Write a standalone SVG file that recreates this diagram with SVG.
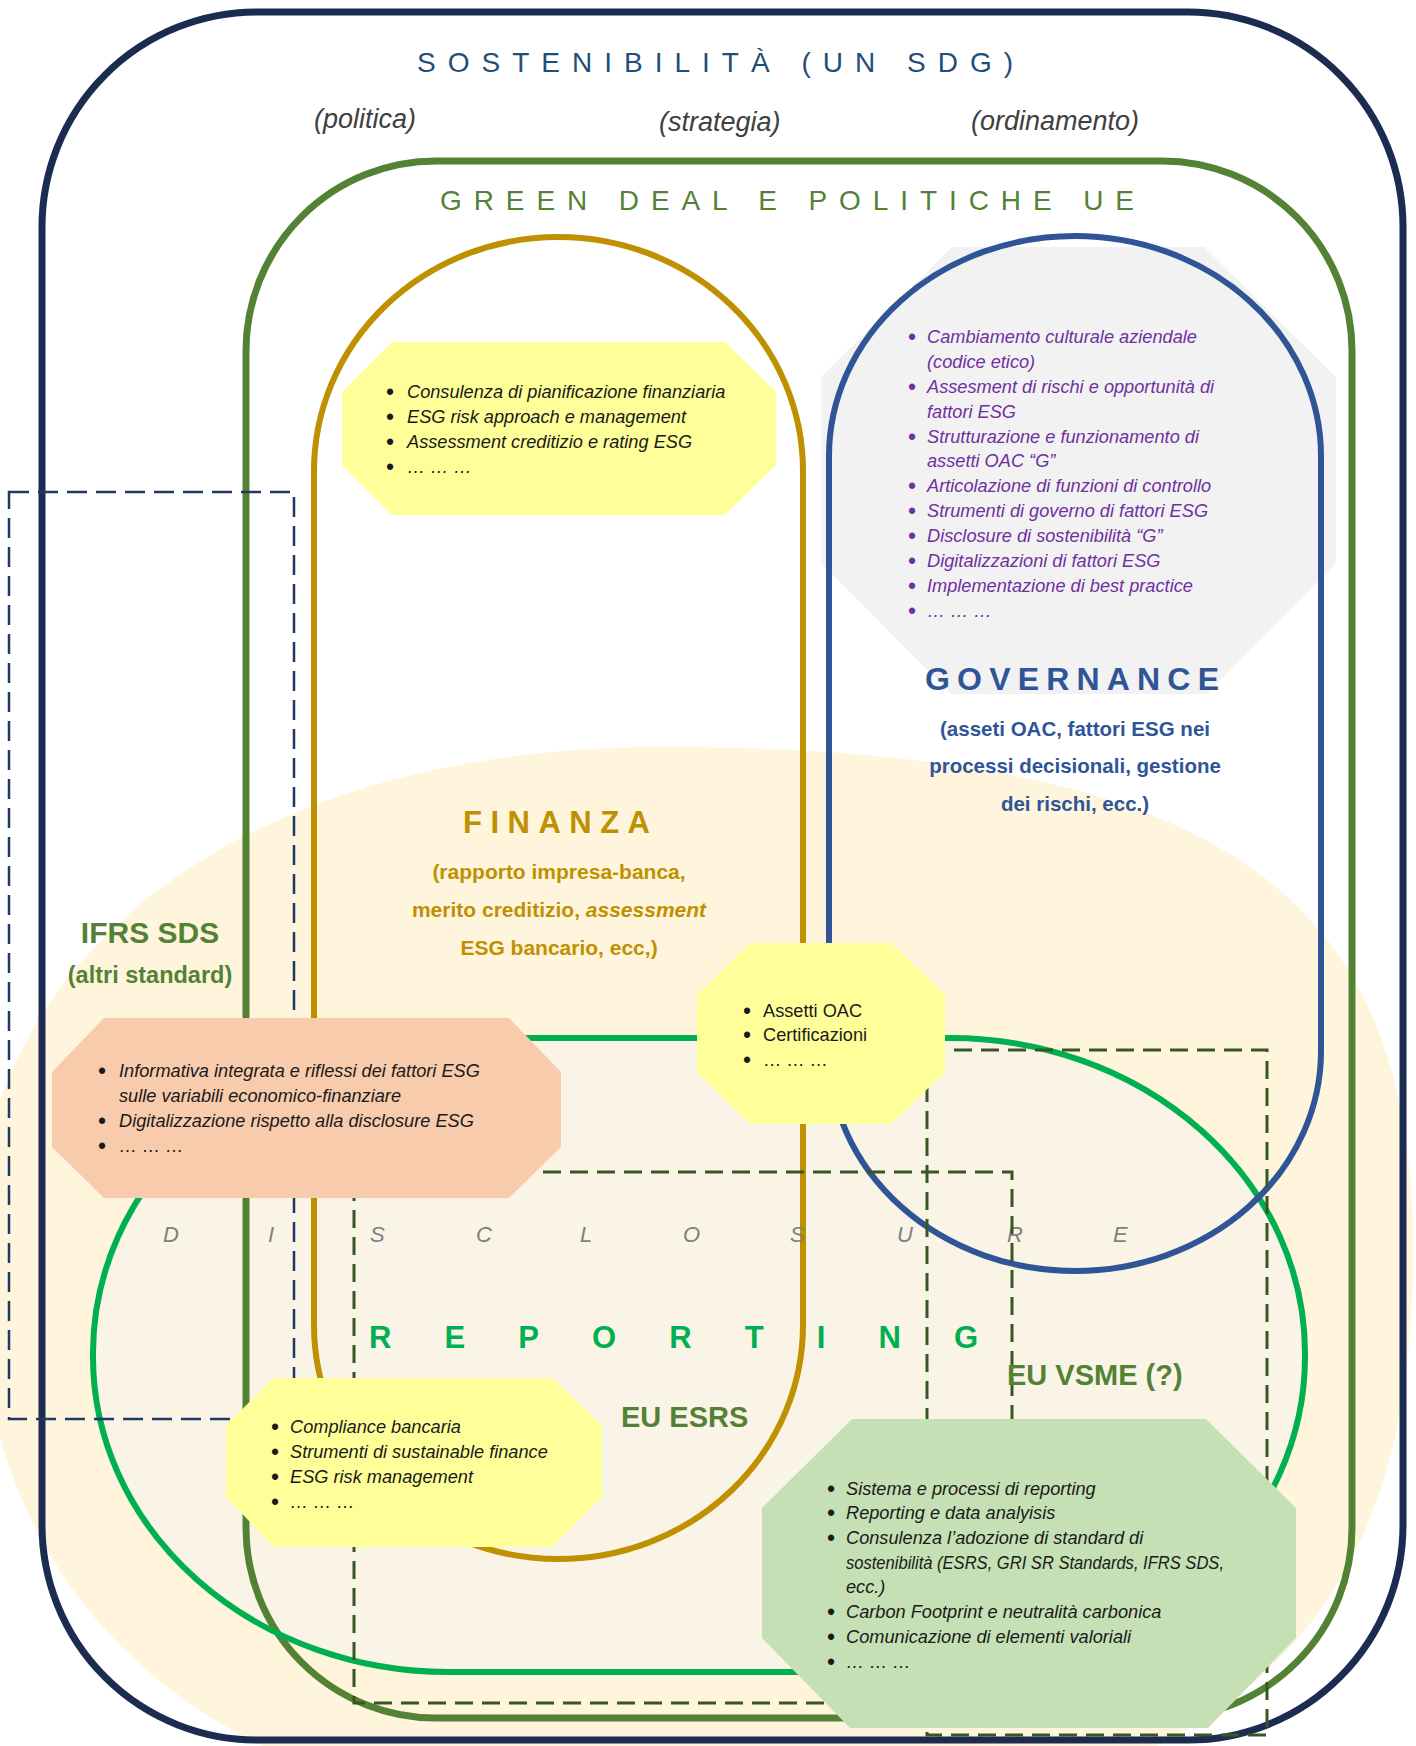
<svg xmlns="http://www.w3.org/2000/svg" width="1416" height="1746" viewBox="0 0 1416 1746">
<style>
text{font-family:"Liberation Sans",Arial,sans-serif}
.frame{fill:none}
.it{font-style:italic;font-size:18.2px;fill:#1a1a1a}
.up{font-size:18.2px;fill:#1a1a1a}
.pu{font-style:italic;font-size:18.2px;fill:#7030A0}
.bl{font-style:normal;font-size:23px}
.sub{font-style:italic;font-size:27px;fill:#404040}
.dash-n{fill:none;stroke:#1F3864;stroke-width:2.5;stroke-dasharray:20 9}
.dash-g{fill:none;stroke:#375623;stroke-width:3;stroke-dasharray:18 9}
.fin{font-weight:bold;font-size:21px;fill:#BF9000}
.gov{font-weight:bold;font-size:20.5px;fill:#2F5597}
.olive{font-weight:bold;fill:#548235}
</style>

<g id="background">
  <rect x="0" y="0" width="1416" height="1746" fill="#ffffff"/>
  <path d="M 660 747 C 1230 747 1413 900 1413 1250 C 1413 1560 1300 1830 700 1830 C 150 1830 -25 1560 -25 1250 C -25 950 250 747 660 747 Z" fill="#FFF5DD"/>
  <rect x="93" y="1038" width="1212" height="634" rx="355" ry="315" fill="#FAF4E7"/>
</g>

<g id="sostenibilita">
  <rect class="frame" x="42" y="12" width="1361" height="1728" rx="215" ry="215" stroke="#1B2C50" stroke-width="7"/>
  <text x="417" y="72" font-size="28" fill="#1F4E79" textLength="596" lengthAdjust="spacing">SOSTENIBILITÀ (UN SDG)</text>
  <text class="sub" x="314" y="128">(politica)</text>
  <text class="sub" x="659" y="131">(strategia)</text>
  <text class="sub" x="971" y="130">(ordinamento)</text>
</g>

<g id="green-deal">
  <rect class="frame" x="246" y="161" width="1106" height="1557" rx="190" ry="190" stroke="#548235" stroke-width="7"/>
  <text x="440" y="210" font-size="28" fill="#548235" textLength="694" lengthAdjust="spacing">GREEN DEAL E POLITICHE UE</text>
</g>

<g id="finanza">
  <rect class="frame" x="314" y="237" width="489" height="1322" rx="244.5" ry="234" stroke="#BF9000" stroke-width="6"/>
  <text x="463" y="833" font-size="31" font-weight="bold" fill="#BF9000" textLength="187" lengthAdjust="spacing">FINANZA</text>
  <text class="fin" x="559" y="879" text-anchor="middle">(rapporto impresa-banca,</text>
  <text class="fin" x="559" y="917" text-anchor="middle">merito creditizio, <tspan font-style="italic">assessment</tspan></text>
  <text class="fin" x="559" y="955" text-anchor="middle">ESG bancario, ecc,)</text>
</g>

<g id="governance">
  <polygon points="952,247 1204,247 1336,377 1336,563 1207,694 951,694 821,563 821,377" fill="#F2F2F2"/>
  <text class="pu">
    <tspan class="bl" x="908" y="345">•</tspan><tspan x="927" y="343">Cambiamento culturale aziendale</tspan>
    <tspan x="927" y="368">(codice etico)</tspan>
    <tspan class="bl" x="908" y="395">•</tspan><tspan x="927" y="393">Assesment di rischi e opportunità di</tspan>
    <tspan x="927" y="418">fattori ESG</tspan>
    <tspan class="bl" x="908" y="445">•</tspan><tspan x="927" y="443">Strutturazione e funzionamento di</tspan>
    <tspan x="927" y="467">assetti OAC “G”</tspan>
    <tspan class="bl" x="908" y="494">•</tspan><tspan x="927" y="492">Articolazione di funzioni di controllo</tspan>
    <tspan class="bl" x="908" y="519">•</tspan><tspan x="927" y="517">Strumenti di governo di fattori ESG</tspan>
    <tspan class="bl" x="908" y="544">•</tspan><tspan x="927" y="542">Disclosure di sostenibilità “G”</tspan>
    <tspan class="bl" x="908" y="569">•</tspan><tspan x="927" y="567">Digitalizzazioni di fattori ESG</tspan>
    <tspan class="bl" x="908" y="594">•</tspan><tspan x="927" y="592">Implementazione di best practice</tspan>
    <tspan class="bl" x="908" y="619">•</tspan><tspan x="927" y="617">… … …</tspan>
  </text>
  <text x="925" y="690" font-size="32" font-weight="bold" fill="#2F5597" textLength="294" lengthAdjust="spacing">GOVERNANCE</text>
  <text class="gov" x="1075" y="736" text-anchor="middle">(asseti OAC, fattori ESG nei</text>
  <text class="gov" x="1075" y="773" text-anchor="middle">processi decisionali, gestione</text>
  <text class="gov" x="1075" y="811" text-anchor="middle">dei rischi, ecc.)</text>
</g>

<g id="reporting">
  <rect class="frame" x="93" y="1038" width="1212" height="634" rx="355" ry="315" stroke="#00B050" stroke-width="6"/>
  <text font-size="22" font-style="italic" fill="#7F7F7F" x="163 268 370 476 580 683 790 897 1007 1113" y="1242">DISCLOSURE</text>
  <text x="369" y="1348" font-size="31" font-weight="bold" fill="#00B050" textLength="609" lengthAdjust="spacing">REPORTING</text>
</g>

<g id="governance-loop">
  <rect class="frame" x="829" y="236" width="492" height="1035" rx="246" ry="220" stroke="#2F5597" stroke-width="6"/>
</g>

<g id="ifrs-sds">
  <rect class="dash-n" x="9" y="492" width="285" height="927"/>
  <text class="olive" x="150" y="943" font-size="30" text-anchor="middle">IFRS SDS</text>
  <text class="olive" x="150" y="983" font-size="23.5" text-anchor="middle">(altri standard)</text>
</g>

<g id="eu-esrs">
  <rect class="dash-g" x="354" y="1172" width="658" height="531"/>
  <text class="olive" x="621" y="1427" font-size="29">EU ESRS</text>
</g>

<g id="eu-vsme">
  <rect class="dash-g" x="927" y="1050" width="340" height="685"/>
  <text class="olive" x="1007" y="1385" font-size="29">EU VSME (?)</text>
</g>

<g id="box-finanza">
  <polygon points="392,342 725,342 776,392 776,465 725,515 392,515 342,465 342,392" fill="#FFFF99"/>
  <text class="it">
    <tspan class="bl" x="386" y="400">•</tspan><tspan x="407" y="398">Consulenza di pianificazione finanziaria</tspan>
    <tspan class="bl" x="386" y="425">•</tspan><tspan x="407" y="423">ESG risk approach e management</tspan>
    <tspan class="bl" x="386" y="450">•</tspan><tspan x="407" y="448">Assessment creditizio e rating ESG</tspan>
    <tspan class="bl" x="386" y="475">•</tspan><tspan x="407" y="473">… … …</tspan>
  </text>
</g>

<g id="box-informativa">
  <polygon points="104,1018 509,1018 561,1072 561,1147 509,1198 104,1198 52,1147 52,1072" fill="#F8CBAD"/>
  <text class="it">
    <tspan class="bl" x="98" y="1079">•</tspan><tspan x="119" y="1077">Informativa integrata e riflessi dei fattori ESG</tspan>
    <tspan x="119" y="1102">sulle variabili economico-finanziare</tspan>
    <tspan class="bl" x="98" y="1129">•</tspan><tspan x="119" y="1127">Digitalizzazione rispetto alla disclosure ESG</tspan>
    <tspan class="bl" x="98" y="1154">•</tspan><tspan x="119" y="1152">… … …</tspan>
  </text>
</g>

<g id="box-assetti">
  <polygon points="750,943 891,943 945,995 945,1072 891,1124 750,1124 697,1072 697,995" fill="#FFFF99"/>
  <text class="up">
    <tspan class="bl" x="743" y="1019">•</tspan><tspan x="763" y="1017">Assetti OAC</tspan>
    <tspan class="bl" x="743" y="1043">•</tspan><tspan x="763" y="1041">Certificazioni</tspan>
    <tspan class="bl" x="743" y="1068">•</tspan><tspan x="763" y="1066">… … …</tspan>
  </text>
</g>

<g id="box-compliance">
  <polygon points="274,1378 552,1378 602,1425 602,1497 552,1547 274,1547 226,1497 226,1425" fill="#FFFF99"/>
  <text class="it">
    <tspan class="bl" x="271" y="1435">•</tspan><tspan x="290" y="1433">Compliance bancaria</tspan>
    <tspan class="bl" x="271" y="1460">•</tspan><tspan x="290" y="1458">Strumenti di sustainable finance</tspan>
    <tspan class="bl" x="271" y="1485">•</tspan><tspan x="290" y="1483">ESG risk management</tspan>
    <tspan class="bl" x="271" y="1510">•</tspan><tspan x="290" y="1508">… … …</tspan>
  </text>
</g>

<g id="box-reporting">
  <polygon points="852,1419 1206,1419 1296,1508 1296,1638 1208,1728 850,1728 762,1638 762,1508" fill="#C5E0B4"/>
  <text class="it">
    <tspan class="bl" x="827" y="1497">•</tspan><tspan x="846" y="1495">Sistema e processi di reporting</tspan>
    <tspan class="bl" x="827" y="1521">•</tspan><tspan x="846" y="1519">Reporting e data analyisis</tspan>
    <tspan class="bl" x="827" y="1546">•</tspan><tspan x="846" y="1544">Consulenza l’adozione di standard di</tspan>
    <tspan x="846" y="1569" textLength="378" lengthAdjust="spacingAndGlyphs">sostenibilità (ESRS, GRI SR Standards, IFRS SDS,</tspan>
    <tspan x="846" y="1593">ecc.)</tspan>
    <tspan class="bl" x="827" y="1620">•</tspan><tspan x="846" y="1618">Carbon Footprint e neutralità carbonica</tspan>
    <tspan class="bl" x="827" y="1645">•</tspan><tspan x="846" y="1643">Comunicazione di elementi valoriali</tspan>
    <tspan class="bl" x="827" y="1670">•</tspan><tspan x="846" y="1668">… … …</tspan>
  </text>
</g>
</svg>
